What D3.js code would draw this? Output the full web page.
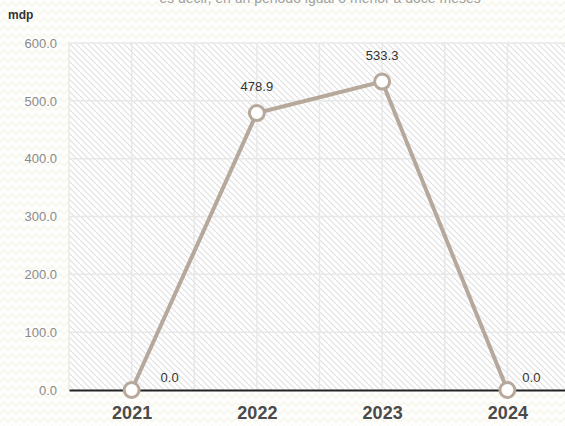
<!doctype html>
<html>
<head>
<style>
  body { margin: 0; background: #fff; font-family: "Liberation Sans", Arial, sans-serif; }
  svg { display: block; }
</style>
<script src="https://d3js.org/d3.v7.min.js"></script>
</head>
<body>
<script>
// data
var years = ['2021', '2022', '2023', '2024'];
var values = [0.0, 478.9, 533.3, 0.0];
var yTicks = [0, 100, 200, 300, 400, 500, 600];

var W = 565, H = 426;
var margin = {top: 43, right: -5, bottom: 36, left: 69};
var width = W - margin.left - margin.right;
var height = H - margin.top - margin.bottom;

var svg = d3.select('body').append('svg')
  .attr('width', W)
  .attr('height', H);

// patterns: zigzag outside, diagonal hatch inside the plot
var defs = svg.append('defs');
var zig = defs.append('pattern')
  .attr('id', 'zig').attr('patternUnits', 'userSpaceOnUse')
  .attr('width', 8).attr('height', 8);
zig.append('rect').attr('width', 8).attr('height', 8).attr('fill', '#fefefc');
zig.append('path').attr('d', 'M0,6 L4,2 L8,6')
  .attr('fill', 'none').attr('stroke', '#f6f5ec').attr('stroke-width', 1.5);

var hatch = defs.append('pattern')
  .attr('id', 'hatch').attr('patternUnits', 'userSpaceOnUse')
  .attr('width', 6).attr('height', 6);
hatch.append('rect').attr('width', 6).attr('height', 6).attr('fill', '#ffffff');
hatch.append('path').attr('d', 'M-1,-1 L7,7 M-1,5 L1,7 M5,-1 L7,1')
  .attr('stroke', '#e0e0e0').attr('stroke-width', 1.1);

svg.append('rect').attr('width', W).attr('height', H).attr('fill', 'url(#zig)');

// subtitle, cut off at the very top as in the original
svg.append('text')
  .text('es decir, en un periodo igual o menor a doce meses')
  .attr('x', 320).attr('y', 3)
  .attr('text-anchor', 'middle')
  .style('font-size', '14px')
  .style('fill', '#a0a0a0');

var g = svg.append('g')
  .attr('transform', `translate(${margin.left}, ${margin.top})`);

var x = d3.scalePoint().domain(years).range([0, width]).padding(0.5);
var y = d3.scaleLinear().domain([0, 600]).range([height, 0]);
var step = x.step();

g.append('rect')
  .attr('width', width).attr('height', height)
  .attr('fill', 'url(#hatch)');

// grid lines
g.selectAll('.hgrid')
  .data(yTicks.filter(d => d > 0))
  .enter().append('line')
  .attr('x1', 0).attr('x2', width)
  .attr('y1', d => y(d)).attr('y2', d => y(d))
  .attr('stroke', '#e8e8e8').attr('stroke-width', 1.5);

var vgrid = [];
years.forEach(function(d) { vgrid.push(x(d) - step / 2, x(d)); });
g.selectAll('.vgrid')
  .data(vgrid)
  .enter().append('line')
  .attr('x1', d => d).attr('x2', d => d)
  .attr('y1', 0).attr('y2', height)
  .attr('stroke', '#e8e8e8').attr('stroke-width', 1.5);

// y axis labels
var yAxis = g.append('g')
  .call(d3.axisLeft(y).tickValues(yTicks).tickFormat(d3.format('.1f')).tickSize(0).tickPadding(12));
yAxis.select('.domain').remove();
yAxis.selectAll('text')
  .style('font-family', '"Liberation Sans", Arial, sans-serif')
  .style('font-size', '13px')
  .style('fill', '#8a8a8a');

// x axis
var xAxis = g.append('g')
  .attr('transform', `translate(0, ${height})`)
  .call(d3.axisBottom(x).tickSize(0).tickPadding(16));
xAxis.select('.domain').attr('stroke', '#222').attr('stroke-width', 2);
xAxis.selectAll('text')
  .style('font-family', '"Liberation Sans", Arial, sans-serif')
  .style('font-size', '18px')
  .style('font-weight', 'bold')
  .style('fill', '#4a4a4a');

svg.append('text')
  .text('mdp')
  .attr('x', 8).attr('y', 19)
  .style('font-size', '12px')
  .style('font-weight', 'bold')
  .style('fill', '#333');

var pts = years.map((d, i) => ({year: d, value: values[i]}));

var line = d3.line().x(d => x(d.year)).y(d => y(d.value));
g.append('path')
  .datum(pts)
  .attr('d', line)
  .attr('fill', 'none')
  .attr('stroke', '#b6a99c')
  .attr('stroke-width', 4);

g.selectAll('.pt')
  .data(pts)
  .enter().append('circle')
  .attr('cx', d => x(d.year))
  .attr('cy', d => y(d.value))
  .attr('r', 7.5)
  .attr('fill', '#fff')
  .attr('stroke', '#b6a99c')
  .attr('stroke-width', 3);

// value labels: zero values sit to the right of the point
g.selectAll('.lbl')
  .data(pts)
  .enter().append('text')
  .text(d => d3.format('.1f')(d.value))
  .attr('x', (d, i) => x(d.year) + (d.value === 0 ? (i === 0 ? 38 : 24) : 0))
  .attr('y', d => y(d.value) - (d.value === 0 ? 8 : 22))
  .attr('text-anchor', 'middle')
  .style('font-size', '13px')
  .style('fill', '#333');
</script>
</body>
</html>
